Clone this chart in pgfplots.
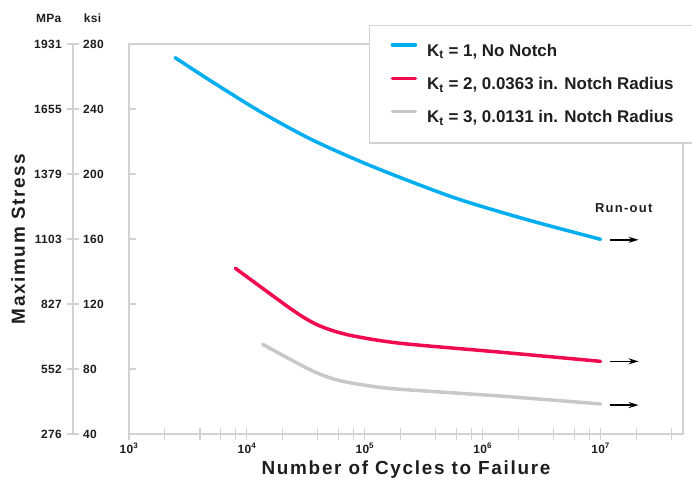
\documentclass[border=0pt]{standalone}
\usepackage{fontspec}
\setmainfont{Liberation Sans}
\usepackage{pgfplots}
\pgfplotsset{compat=1.18}
\usetikzlibrary{arrows.meta}
\definecolor{cblue}{HTML}{00AEEF}
\definecolor{cred}{HTML}{F00A50}
\definecolor{cgray}{HTML}{C8C8C8}
\definecolor{axisgray}{HTML}{D2D2D2}
\definecolor{textc}{HTML}{1E1E1E}
\newcommand{\tickfont}{\fontsize{12}{14}\selectfont\bfseries\addfontfeature{LetterSpace=3}\color{textc}}
\newcommand{\labfont}{\fontsize{19}{22}\selectfont\bfseries\addfontfeature{LetterSpace=9}\color{textc}}
\begin{document}
\begin{tikzpicture}
\path[use as bounding box] (-129bp,-53bp) rectangle (563bp,434bp);
\begin{axis}[
  scale only axis, width=554bp, height=390bp,
  xmode=log, log basis x=10,
  xmin=1000, xmax=5e7, ymin=40, ymax=280,
  clip=false,
  axis line style={draw=axisgray, line width=1.3bp},
  tick style={draw=axisgray, line width=1.1bp},
  tick align=center, major tick length=12bp, minor tick length=12bp,
  tick pos=left,
  xtick={1e3,1e4,1e5,1e6,1e7},
  xticklabels={10\textsuperscript{3},10\textsuperscript{4},10\textsuperscript{5},10\textsuperscript{6},10\textsuperscript{7}},
  minor xtick={2e3,4e3,6e3,8e3,2e4,4e4,6e4,8e4,2e5,4e5,6e5,8e5,2e6,4e6,6e6,8e6,2e7,4e7},
  ytick=\empty,
  xticklabel style={font=\tickfont, anchor=base, inner sep=0pt, yshift=-13bp},
  xlabel={Number of Cycles to Failure},
  ylabel={Maximum Stress},
  every axis x label/.style={at={([yshift=-36bp]axis description cs:0.5,0)}, anchor=center, font=\labfont},
  every axis y label/.style={at={([xshift=-111bp]axis description cs:0,0.5)}, rotate=90, anchor=center, font=\labfont},
  legend style={at={(axis description cs:0.4332,1.0487)}, anchor=north west,
    draw=axisgray, line width=1.3bp, fill=white,
    inner xsep=21bp, inner ysep=16.5bp, row sep=15.5bp, column sep=8bp,
    font=\fontsize{17}{20}\selectfont\bfseries, text=textc,
    cells={anchor=west}},
  legend image code/.code={\draw[#1] (0bp,6bp) -- (23bp,6bp);},
]
\addplot[cblue, line width=3.5bp, line cap=round, smooth] coordinates {
 (2460,271.6) (4890,257.5) (13030,238.3) (34700,221.5) (92500,207.6) (246000,195.3) (656000,184) (2430000,171.7) (1e7,159.8)};
\addlegendentry{K\textsubscript{t} = 1, No Notch}
\addplot[cred, line width=3.5bp, line cap=round, smooth] coordinates {
 (7980,142) (23400,117.2) (36100,108.6) (51400,104.0) (80500,100.3) (202000,95.8) (1440000,90.3) (1e7,84.7)};
\addlegendentry{K\textsubscript{t} = 2, 0.0363 in. Notch Radius}
\addplot[cgray, line width=3.5bp, line cap=round, smooth] coordinates {
 (13600,95.2) (34700,79.4) (58600,73.2) (112000,69.5) (202000,67.5) (1440000,63.3) (1e7,58.5)};
\addlegendentry{K\textsubscript{t} = 3, 0.0131 in. Notch Radius}
\addplot[black, line width=1.5bp, -{Stealth[length=10bp,width=6bp]}, forget plot] coordinates {(1.19e7,159.5) (2.1e7,159.5)};
\addplot[black, line width=1.5bp, -{Stealth[length=10bp,width=6bp]}, forget plot] coordinates {(1.19e7,84.7) (2.1e7,84.7)};
\addplot[black, line width=1.5bp, -{Stealth[length=10bp,width=6bp]}, forget plot] coordinates {(1.19e7,57.8) (2.1e7,57.8)};
\node[font=\fontsize{13}{15}\selectfont\bfseries\addfontfeature{LetterSpace=10}, text=textc] at (axis cs:1.57e7,179) {Run-out};
% secondary stress scale
\draw[axisgray, line width=1.3bp] ([xshift=-56bp]axis cs:1000,40) -- ([xshift=-56bp]axis cs:1000,280);
\pgfplotsinvokeforeach{40,80,120,160,200,240,280}{
  \draw[axisgray, line width=1.1bp] ([xshift=-62bp]axis cs:1000,#1) -- ([xshift=-50bp]axis cs:1000,#1);
  \draw[axisgray, line width=1.1bp] (axis cs:1000,#1) -- ([xshift=7bp]axis cs:1000,#1);
  \node[anchor=west, inner sep=0pt, font=\tickfont] at ([xshift=-46bp]axis cs:1000,#1) {#1};
}
\node[anchor=east, inner sep=0pt, font=\tickfont] at ([xshift=-67bp]axis cs:1000,40) {276};
\node[anchor=east, inner sep=0pt, font=\tickfont] at ([xshift=-67bp]axis cs:1000,80) {552};
\node[anchor=east, inner sep=0pt, font=\tickfont] at ([xshift=-67bp]axis cs:1000,120) {827};
\node[anchor=east, inner sep=0pt, font=\tickfont] at ([xshift=-67bp]axis cs:1000,160) {1103};
\node[anchor=east, inner sep=0pt, font=\tickfont] at ([xshift=-67bp]axis cs:1000,200) {1379};
\node[anchor=east, inner sep=0pt, font=\tickfont] at ([xshift=-67bp]axis cs:1000,240) {1655};
\node[anchor=east, inner sep=0pt, font=\tickfont] at ([xshift=-67bp]axis cs:1000,280) {1931};
\node[inner sep=0pt, font=\tickfont] at ([xshift=-80.3bp,yshift=25.7bp]axis cs:1000,280) {MPa};
\node[inner sep=0pt, font=\tickfont] at ([xshift=-36.5bp,yshift=25.7bp]axis cs:1000,280) {ksi};
\end{axis}
\end{tikzpicture}
\end{document}
